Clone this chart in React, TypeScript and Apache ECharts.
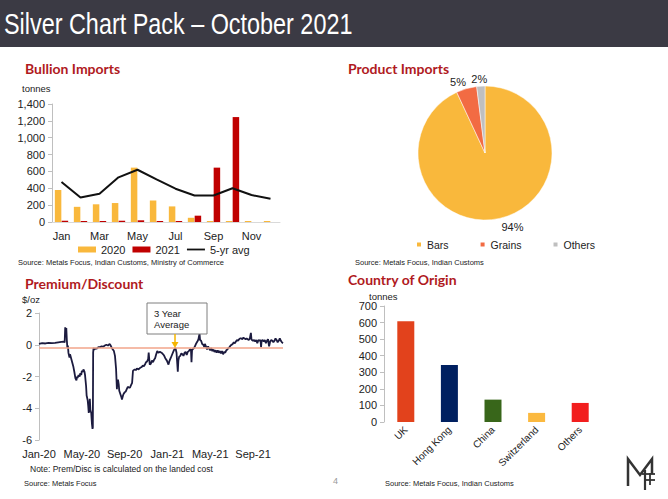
import React, { useEffect, useRef } from "react";
import * as echarts from "echarts";

// ---------- Bullion Imports ----------
const months = ["Jan", "Feb", "Mar", "Apr", "May", "Jun", "Jul", "Aug", "Sep", "Oct", "Nov", "Dec"];
const imports2020 = [380, 180, 210, 225, 645, 255, 185, 50, 12, 12, 12, 12];
const imports2021 = [15, 12, 12, 15, 20, 12, 12, 75, 645, 1245, null, null];
const avg5yr = [475, 290, 335, 530, 620, 505, 395, 315, 315, 400, 320, 275];

// ---------- Product Imports ----------
const productNames = ["Bars", "Grains", "Others"];
const productShares = [94, 5, 2];
const productColors = ["#F9B83C", "#F26B43", "#BFBFBF"];

// ---------- Premium / Discount ($/oz), x = months since Jan-20 ----------
const premiumTickLabels = ["Jan-20", "May-20", "Sep-20", "Jan-21", "May-21", "Sep-21"];
const threeYearAverage = -0.2;
const premiumPoints: [number, number][] = [
  [0.0, 0.05], [0.3, 0.1], [0.6, 0.08], [0.9, 0.12], [1.2, 0.1], [1.5, 0.12], [1.8, 0.15], [2.1, 0.18], [2.3, 0.2], [2.4, 0.15],
  [2.45, 1.1], [2.5, 0.9], [2.55, 1.05], [2.6, 0.3], [2.65, -0.2], [2.7, -0.05], [2.75, -0.5], [2.85, -0.8], [2.9, -0.6], [3.0, -0.85],
  [3.1, -1.1], [3.2, -1.35], [3.3, -1.7], [3.4, -2.1], [3.5, -2.25], [3.55, -2.0], [3.6, -2.1], [3.7, -1.9], [3.8, -2.0], [3.85, -1.8],
  [3.95, -1.9], [4.0, -1.65], [4.1, -1.7], [4.15, -1.55], [4.25, -1.7], [4.3, -1.9], [4.4, -2.6], [4.45, -3.2], [4.55, -3.5], [4.6, -3.85],
  [4.65, -4.3], [4.7, -4.0], [4.75, -3.4], [4.8, -4.1], [4.88, -4.3], [4.95, -5.0], [5.0, -5.3], [5.03, -5.2], [5.06, -0.5], [5.1, -0.2],
  [5.16, -0.3], [5.25, -0.25], [5.4, -0.25], [5.55, -0.15], [5.7, -0.15], [5.85, -0.1], [6.0, -0.12], [6.15, -0.05], [6.3, 0.0], [6.45, -0.05],
  [6.6, 0.05], [6.7, -0.05], [6.8, -0.2], [6.9, -0.3], [7.0, -0.4], [7.1, -0.7], [7.2, -1.5], [7.28, -2.8], [7.32, -2.3], [7.38, -2.2],
  [7.45, -2.5], [7.5, -2.9], [7.6, -3.1], [7.7, -3.3], [7.75, -3.45], [7.85, -3.2], [7.9, -3.1], [8.0, -3.0], [8.1, -2.95], [8.2, -2.8],
  [8.3, -2.65], [8.4, -2.7], [8.5, -2.7], [8.6, -2.55], [8.7, -2.4], [8.78, -1.65], [8.85, -1.6], [8.95, -1.55], [9.05, -1.6], [9.15, -1.5],
  [9.3, -1.55], [9.45, -1.45], [9.6, -1.4], [9.7, -1.3], [9.8, -1.35], [9.9, -1.25], [10.0, -1.1], [10.1, -1.05], [10.2, -0.9], [10.25, -0.5],
  [10.3, -0.9], [10.35, -1.25], [10.45, -1.2], [10.55, -1.0], [10.65, -1.1], [10.75, -0.95], [10.85, -0.85], [10.95, -0.6], [11.05, -0.4], [11.15, -0.5],
  [11.3, -0.45], [11.45, -0.5], [11.6, -0.6], [11.7, -0.7], [11.8, -0.85], [11.95, -1.0], [12.1, -1.25], [12.2, -1.0], [12.3, -0.85], [12.45, -0.6],
  [12.6, -0.35], [12.75, -0.2], [12.85, -0.5], [12.92, -1.2], [12.97, -1.7], [13.02, -1.0], [13.1, -0.75], [13.2, -0.7], [13.3, -0.55], [13.4, -0.6],
  [13.5, -0.7], [13.6, -0.5], [13.7, -0.45], [13.8, -0.65], [13.9, -0.45], [14.0, -0.4], [14.1, -0.3], [14.2, -0.3], [14.25, -1.1], [14.3, -0.35],
  [14.4, -0.25], [14.5, -0.2], [14.6, -0.05], [14.7, 0.1], [14.8, 0.2], [14.9, 0.35], [15.0, 0.7], [15.05, 0.3], [15.15, 0.25], [15.25, 0.05],
  [15.35, 0.0], [15.45, -0.15], [15.5, 0.05], [15.6, -0.1], [15.7, -0.3], [15.8, -0.1], [15.9, -0.25], [16.0, -0.35], [16.1, -0.2], [16.2, -0.4],
  [16.3, -0.3], [16.4, -0.45], [16.5, -0.35], [16.6, -0.5], [16.7, -0.35], [16.8, -0.5], [16.9, -0.4], [17.0, -0.55], [17.1, -0.4], [17.2, -0.6],
  [17.3, -0.45], [17.4, -0.5], [17.5, -0.35], [17.6, -0.3], [17.7, -0.2], [17.8, -0.15], [17.9, -0.05], [18.0, 0.0], [18.1, 0.05], [18.2, 0.15],
  [18.3, 0.1], [18.4, 0.2], [18.5, 0.3], [18.6, 0.25], [18.7, 0.35], [18.8, 0.4], [18.9, 0.4], [19.0, 0.35], [19.1, 0.45], [19.2, 0.4],
  [19.3, 0.35], [19.4, 0.4], [19.5, 0.35], [19.6, 0.3], [19.7, 0.4], [19.8, 0.75], [19.85, 0.35], [19.9, 0.3], [20.0, 0.25], [20.1, 0.3],
  [20.2, 0.2], [20.3, 0.3], [20.4, 0.1], [20.5, 0.3], [20.6, 0.25], [20.7, 0.3], [20.75, -0.15], [20.8, 0.25], [20.9, 0.3], [21.0, 0.2],
  [21.1, 0.3], [21.2, 0.1], [21.3, 0.25], [21.4, 0.35], [21.5, -0.1], [21.6, 0.2], [21.7, 0.3], [21.8, 0.25], [21.9, 0.15], [22.0, 0.25],
  [22.1, 0.4], [22.2, 0.3], [22.3, 0.15], [22.4, 0.25], [22.5, 0.4], [22.6, 0.25], [22.7, 0.15], [22.8, 0.1],
];

// ---------- Country of Origin ----------
const countries = ["UK", "Hong Kong", "China", "Switzerland", "Others"];
const countryTonnes = [608, 344, 135, 55, 115];
const countryColors = ["#E2421C", "#002060", "#38661A", "#FBB93F", "#F21E1E"];

const FONT = "Liberation Sans";
const TITLE_RED = "#B01A1E";
const AXIS_GREY = "#BFBFBF";
const TEXT = "#222";

function smallText(x: number, y: number, text: string, size: number, color = TEXT) {
  return {
    type: "text",
    x,
    y,
    style: { text, fill: color, font: `${size}px "${FONT}"`, textVerticalAlign: "middle" },
  };
}

function titleText(x: number, y: number, text: string) {
  return {
    type: "text",
    x,
    y,
    style: { text, fill: TITLE_RED, font: `bold 14px Lato`, textVerticalAlign: "middle" },
  };
}

export default function App() {
  const ref = useRef<HTMLDivElement>(null);

  useEffect(() => {
    if (!ref.current) return;
    const chart = echarts.init(ref.current, null, { renderer: "svg" });

    const valueAxisCommon = {
      type: "value",
      splitLine: { show: false },
      axisLine: { show: true, onZero: false, lineStyle: { color: AXIS_GREY } },
      axisTick: { show: true, length: 4, lineStyle: { color: AXIS_GREY } },
      axisLabel: { fontSize: 11, color: TEXT, margin: 7, fontFamily: FONT },
    };

    const option: any = {
      animation: false,
      textStyle: { fontFamily: FONT },
      grid: [
        { left: 52, top: 104, width: 228, height: 118 },
        { left: 39, top: 313, width: 244, height: 127 },
        { left: 384, top: 306, width: 218, height: 116 },
      ],
      xAxis: [
        {
          gridIndex: 0,
          type: "category",
          data: months,
          axisTick: { show: false },
          axisLine: { lineStyle: { color: "#D9D9D9" } },
          axisLabel: { interval: 1, fontSize: 11, color: TEXT, margin: 8 },
        },
        {
          gridIndex: 1,
          type: "value",
          min: 0,
          max: 22.8,
          interval: 4,
          splitLine: { show: false },
          axisLine: { show: false, onZero: false },
          axisTick: { show: false },
          axisLabel: {
            fontSize: 11,
            color: TEXT,
            margin: 8,
            formatter: (v: number) => (Math.abs(v % 4) < 1e-6 ? premiumTickLabels[Math.round(v / 4)] ?? "" : ""),
          },
        },
        {
          gridIndex: 2,
          type: "category",
          data: countries,
          axisTick: { show: false },
          axisLine: { show: false },
          axisLabel: { rotate: 45, fontSize: 10, color: TEXT, margin: 6, interval: 0 },
        },
      ],
      yAxis: [
        {
          ...valueAxisCommon,
          gridIndex: 0,
          min: 0,
          max: 1400,
          interval: 200,
          axisLabel: { ...valueAxisCommon.axisLabel, formatter: (v: number) => v.toLocaleString("en-US") },
        },
        { ...valueAxisCommon, gridIndex: 1, min: -6, max: 2, interval: 2 },
        { ...valueAxisCommon, gridIndex: 2, min: 0, max: 700, interval: 100 },
      ],
      legend: [
        {
          left: 78,
          top: 244,
          padding: 0,
          itemWidth: 18,
          itemHeight: 6,
          itemGap: 7,
          textStyle: { fontSize: 11, color: TEXT },
          data: [
            { name: "2020", icon: "rect" },
            { name: "2021", icon: "rect" },
            { name: "5-yr avg", icon: "path://M0,0 H30 V3 H0 Z", itemStyle: { color: "#111" } },
          ],
        },
        {
          left: 415,
          top: 239,
          padding: 0,
          itemWidth: 6,
          itemHeight: 6,
          itemGap: 30,
          textStyle: { fontSize: 10.5, color: TEXT },
          data: productNames.map((n) => ({ name: n, icon: "rect" })),
        },
      ],
      series: [
        {
          name: "2020",
          type: "bar",
          xAxisIndex: 0,
          yAxisIndex: 0,
          data: imports2020,
          barWidth: 6.5,
          barGap: "5%",
          itemStyle: { color: "#F9B83C" },
        },
        {
          name: "2021",
          type: "bar",
          xAxisIndex: 0,
          yAxisIndex: 0,
          data: imports2021,
          barWidth: 6.5,
          itemStyle: { color: "#C00000" },
        },
        {
          name: "5-yr avg",
          type: "line",
          xAxisIndex: 0,
          yAxisIndex: 0,
          data: avg5yr,
          symbol: "none",
          lineStyle: { color: "#111", width: 2 },
          itemStyle: { color: "#111" },
        },
        {
          name: "Product Imports",
          type: "pie",
          center: [485, 153],
          radius: 67,
          startAngle: 90,
          clockwise: true,
          avoidLabelOverlap: false,
          itemStyle: { borderColor: "#fff", borderWidth: 0.5 },
          label: {
            position: "outside",
            fontSize: 11,
            color: TEXT,
            distanceToLabelLine: 0,
            formatter: (p: any) => `${p.value}%`,
          },
          labelLine: { show: false, length: 9, length2: 0 },
          labelLayout: (p: any) => (p.dataIndex === 2 ? { dx: 7, dy: 2 } : p.dataIndex === 1 ? { dx: 2, dy: 2 } : {}),
          emphasis: { disabled: true },
          data: productNames.map((n, i) => ({
            name: n,
            value: productShares[i],
            itemStyle: { color: productColors[i] },
          })),
        },
        {
          name: "Premium/Discount",
          type: "line",
          xAxisIndex: 1,
          yAxisIndex: 1,
          data: premiumPoints,
          symbol: "none",
          lineStyle: { color: "#1C1B3F", width: 1.8 },
          markLine: {
            silent: true,
            symbol: "none",
            label: { show: false },
            lineStyle: { color: "#F2A58A", width: 1.5, type: "solid" },
            data: [{ yAxis: threeYearAverage }],
          },
          z: 3,
        },
        {
          name: "Country of Origin",
          type: "bar",
          xAxisIndex: 2,
          yAxisIndex: 2,
          data: countryTonnes,
          barWidth: 17,
          itemStyle: { color: (p: any) => countryColors[p.dataIndex] },
        },
      ],
      graphic: [
        { type: "rect", shape: { x: 0, y: 0, width: 668, height: 47 }, style: { fill: "#3B3A44" } },
        {
          type: "text",
          x: 4,
          y: 24,
          scaleX: 0.78,
          style: {
            text: "Silver Chart Pack – October 2021",
            fill: "#fff",
            font: `30px "${FONT}"`,
            textVerticalAlign: "middle",
          },
        },
        titleText(25, 68, "Bullion Imports"),
        titleText(348, 68, "Product Imports"),
        titleText(25, 283, "Premium/Discount"),
        titleText(348, 279, "Country of Origin"),
        smallText(22, 88, "tonnes", 9.5),
        smallText(22, 299, "$/oz", 9.5),
        smallText(369, 296, "tonnes", 9.5),
        smallText(18, 262, "Source: Metals Focus, Indian Customs, Ministry of Commerce", 7.5),
        smallText(355, 262, "Source: Metals Focus, Indian Customs", 7.5),
        smallText(30, 469, "Note: Prem/Disc is calculated on the landed cost", 8.5),
        smallText(24, 483, "Source: Metals Focus", 7.5),
        smallText(385, 483, "Source: Metals Focus, Indian Customs", 7.5),
        smallText(333, 481, "4", 9, "#999"),
        // 3 Year Average annotation
        {
          type: "rect",
          shape: { x: 147, y: 303, width: 60, height: 31 },
          style: { fill: "#fff", stroke: "#7F7F7F", lineWidth: 1 },
          z: 10,
        },
        { ...smallText(154, 313, "3 Year", 9.5), z: 11 },
        { ...smallText(154, 324, "Average", 9.5), z: 11 },
        {
          type: "line",
          shape: { x1: 175, y1: 334, x2: 175, y2: 343 },
          style: { stroke: "#F5B400", lineWidth: 1.5 },
          z: 11,
        },
        {
          type: "polygon",
          shape: { points: [[171.5, 342], [178.5, 342], [175, 348]] },
          style: { fill: "#F5B400" },
          z: 11,
        },
        // logo
        {
          type: "polyline",
          shape: { points: [[628, 486], [628, 459], [640, 475], [652, 459], [652, 474]] },
          style: { stroke: "#333", lineWidth: 2.5, fill: null },
        },
        { type: "line", shape: { x1: 645, y1: 470, x2: 645, y2: 490 }, style: { stroke: "#333", lineWidth: 2.2 } },
        { type: "line", shape: { x1: 650, y1: 473, x2: 650, y2: 485 }, style: { stroke: "#333", lineWidth: 1.8 } },
        { type: "line", shape: { x1: 642, y1: 474, x2: 655, y2: 474 }, style: { stroke: "#333", lineWidth: 1.8 } },
        { type: "line", shape: { x1: 645, y1: 480, x2: 655, y2: 480 }, style: { stroke: "#333", lineWidth: 1.8 } },
      ],
    };

    chart.setOption(option);
    return () => chart.dispose();
  }, []);

  return <div ref={ref} style={{ position: "absolute", left: 0, top: 0, width: 668, height: 499 }} />;
}
